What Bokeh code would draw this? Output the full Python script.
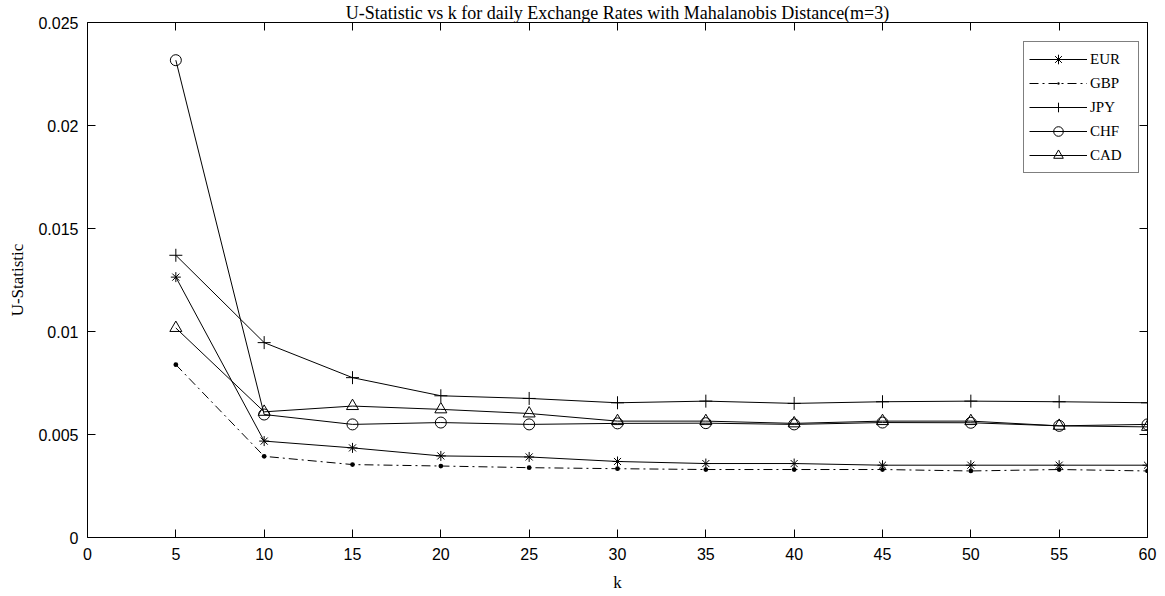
from bokeh.plotting import figure
from bokeh.models import LinearAxis, FixedTicker, Range1d, Title, Legend, LegendItem
from bokeh.embed import file_html
from bokeh.resources import INLINE

# ---- data ----
k = [5, 10, 15, 20, 25, 30, 35, 40, 45, 50, 55, 60]
EUR = [0.01264, 0.00468, 0.00435, 0.00396, 0.00391, 0.00369, 0.00359, 0.00359, 0.00351, 0.00351, 0.00351, 0.00351]
GBP = [0.00839, 0.00394, 0.00354, 0.00347, 0.00339, 0.00334, 0.00330, 0.00330, 0.00330, 0.00323, 0.00330, 0.00323]
JPY = [0.01370, 0.00946, 0.00776, 0.00688, 0.00675, 0.00654, 0.00662, 0.00651, 0.00659, 0.00662, 0.00659, 0.00654]
CHF = [0.02317, 0.00597, 0.00549, 0.00558, 0.00549, 0.00554, 0.00555, 0.00549, 0.00558, 0.00557, 0.00542, 0.00549]
CAD = [0.01017, 0.00610, 0.00638, 0.00622, 0.00602, 0.00565, 0.00565, 0.00554, 0.00565, 0.00565, 0.00542, 0.00537]

x_ticks = [0, 5, 10, 15, 20, 25, 30, 35, 40, 45, 50, 55, 60]
x_tick_labels = ["0", "5", "10", "15", "20", "25", "30", "35", "40", "45", "50", "55", "60"]
y_ticks = [0, 0.005, 0.01, 0.015, 0.02, 0.025]
y_tick_labels = ["0", "0.005", "0.01", "0.015", "0.02", "0.025"]

title_text = "U-Statistic vs k for daily Exchange Rates with Mahalanobis Distance(m=3)"
x_label = "k"
y_label = "U-Statistic"

SERIF = "Liberation Serif"
SANS = "Liberation Sans"

p = figure(width=1157, height=596, output_backend="svg", toolbar_location=None,
           x_range=Range1d(0, 60), y_range=Range1d(0, 0.025),
           x_axis_type=None, y_axis_type=None,
           min_border_left=87, min_border_right=10, min_border_top=20, min_border_bottom=59)
p.outline_line_color = None
p.background_fill_color = "white"
p.border_fill_color = "white"

p.title = Title(text=title_text, align="center", text_font=SERIF, text_font_size="18px",
                text_font_style="normal", text_color="black", standoff=0, offset=0)


def style_axis(ax, ticks, labels, show_labels):
    ax.ticker = FixedTicker(ticks=ticks)
    ax.major_tick_in = 8
    ax.major_tick_out = 0
    ax.minor_tick_in = 0
    ax.minor_tick_out = 0
    ax.axis_line_color = "black"
    ax.axis_line_width = 1
    ax.major_tick_line_color = "black"
    if show_labels:
        ax.major_label_overrides = {t: s for t, s in zip(ticks, labels)}
        ax.major_label_text_font = SANS
        ax.major_label_text_font_size = "16px"
        ax.major_label_text_color = "black"
    else:
        ax.major_label_text_color = None
        ax.major_label_text_font_size = "1px"
        ax.major_label_standoff = 0


xb = LinearAxis()
style_axis(xb, x_ticks, x_tick_labels, True)
xb.major_label_standoff = 10
xb.axis_label = x_label
xb.axis_label_text_font = SERIF
xb.axis_label_text_font_style = "normal"
xb.axis_label_text_font_size = "17px"
xb.axis_label_text_color = "black"
xb.axis_label_standoff = 10
p.add_layout(xb, "below")

yl = LinearAxis()
style_axis(yl, y_ticks, y_tick_labels, True)
yl.major_label_standoff = 9
yl.axis_label = y_label
yl.axis_label_text_font = SERIF
yl.axis_label_text_font_style = "normal"
yl.axis_label_text_font_size = "17px"
yl.axis_label_text_color = "black"
yl.axis_label_standoff = 8
p.add_layout(yl, "left")

xt = LinearAxis()
style_axis(xt, x_ticks, x_tick_labels, False)
p.add_layout(xt, "above")

yr = LinearAxis()
style_axis(yr, y_ticks, y_tick_labels, False)
p.add_layout(yr, "right")

# ---- series ----
eur_l = p.line(k, EUR, line_color="black", line_width=1)
eur_s = p.scatter(k, EUR, marker="asterisk", size=10, line_color="black", line_width=1)

gbp_l = p.line(k, GBP, line_color="black", line_width=1, line_dash="9 4 2 4")
gbp_s = p.scatter(k, GBP, marker="dot", size=19, line_color="black", fill_color="black")

jpy_l = p.line(k, JPY, line_color="black", line_width=1)
jpy_s = p.scatter(k, JPY, marker="cross", size=13, line_color="black", line_width=1)

chf_l = p.line(k, CHF, line_color="black", line_width=1)
chf_s = p.scatter(k, CHF, marker="circle", size=11, line_color="black", fill_color=None, line_width=1)

cad_l = p.line(k, CAD, line_color="black", line_width=1)
cad_s = p.scatter(k, CAD, marker="triangle", size=12, line_color="black", fill_color=None, line_width=1)

# ---- legend ----
lg = Legend(items=[
    LegendItem(label="EUR", renderers=[eur_l, eur_s]),
    LegendItem(label="GBP", renderers=[gbp_l, gbp_s]),
    LegendItem(label="JPY", renderers=[jpy_l, jpy_s]),
    LegendItem(label="CHF", renderers=[chf_l, chf_s]),
    LegendItem(label="CAD", renderers=[cad_l, cad_s]),
])
lg.location = (936, 364)
lg.margin = 0
lg.padding = 5
lg.spacing = 0
lg.glyph_width = 58
lg.glyph_height = 24
lg.label_height = 24
lg.label_width = 43
lg.label_standoff = 3
lg.label_text_font = SERIF
lg.label_text_font_size = "15px"
lg.label_text_color = "black"
lg.border_line_color = "black"
lg.border_line_width = 1
lg.background_fill_color = "white"
lg.background_fill_alpha = 1.0
p.add_layout(lg, "center")

open("out.html", "w").write(file_html(p, INLINE))
